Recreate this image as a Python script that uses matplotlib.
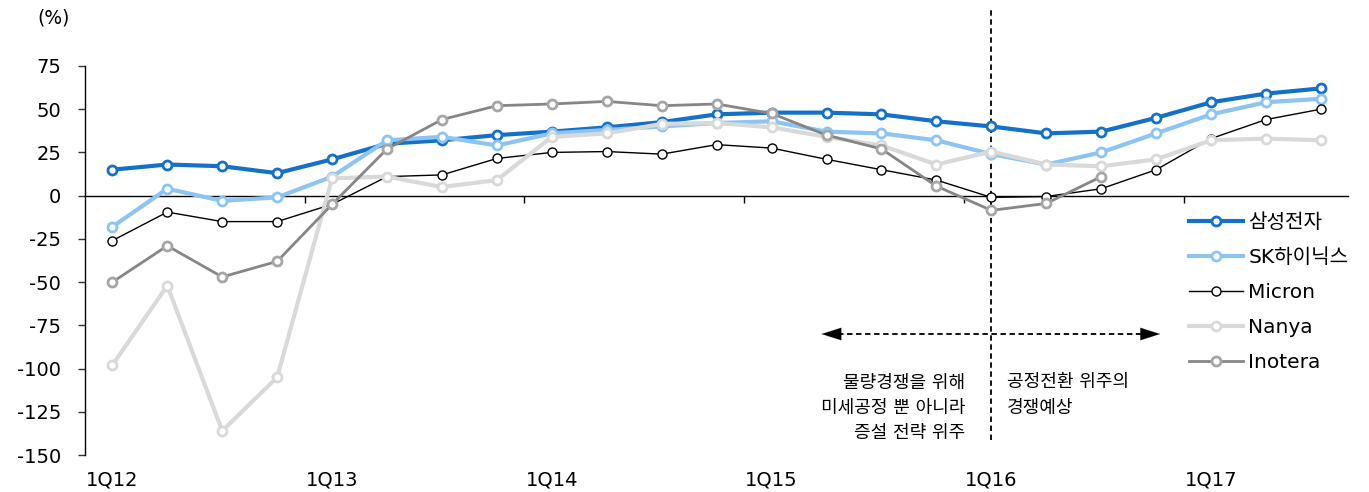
import matplotlib
matplotlib.use('Agg')
import matplotlib.pyplot as plt
import numpy as np

plt.rcParams['font.family'] = ['DejaVu Sans', 'Noto Sans CJK KR']
plt.rcParams['axes.unicode_minus'] = False

# ==================== 데이터 ====================
quarters = ['1Q12', '2Q12', '3Q12', '4Q12', '1Q13', '2Q13', '3Q13', '4Q13',
            '1Q14', '2Q14', '3Q14', '4Q14', '1Q15', '2Q15', '3Q15', '4Q15',
            '1Q16', '2Q16', '3Q16', '4Q16', '1Q17', '2Q17', '3Q17']

samsung = [15, 18, 17, 13, 21, 30, 32, 35, 37, 39.5, 42.5, 47, 48, 48, 47, 43,
           40, 36, 37, 45, 54, 59, 62]
sk_hynix = [-18, 4, -3, -1, 11, 32, 34, 29, 36, 38, 40, 42, 43, 37, 36, 32,
            24, 18, 25, 36, 47, 54, 56]
micron = [-26, -9.5, -15, -15, -5, 11, 12, 21.5, 25, 25.5, 24, 29.5, 27.5, 21, 15, 9,
          -1, -0.5, 4, 15, 33, 44, 50]
nanya = [-98, -52, -136, -105, 10, 11, 5, 9, 34, 36, 41.5, 42, 39.5, 34, 29, 18,
         25.5, 18, 17, 21, 32, 33, 32]
inotera = [-50, -29, -47, -38, -5, 27, 44, 52, 53, 54.5, 52, 53, 47.5, 35, 27, 5.5,
           -8.5, -4.5, 11]

series = [
    ('삼성전자', samsung, '#1570C9', '#1570C9', 3.0, 2.0),
    ('SK하이닉스', sk_hynix, '#8DC4F2', '#8DC4F2', 3.0, 2.0),
    ('Micron', micron, 'black', 'black', 1.0, 1.0),
    ('Nanya', nanya, '#D9D9D9', '#D9D9D9', 3.0, 2.0),
    ('Inotera', inotera, '#868686', '#A6A6A6', 2.0, 2.0),
]

# ==================== 그래프 ====================
fig = plt.figure(figsize=(13.69, 4.92), dpi=100)
ax = fig.add_axes([0.062, 0.075, 0.923, 0.791])

x = np.arange(len(quarters))
for name, vals, lc, mec, lw, mew in series:
    ax.plot(x[:len(vals)], vals, color=lc, lw=lw, marker='o', ms=6.5,
            mfc='white', mec=mec, mew=mew, label=name, zorder=3)

ax.set_xlim(-0.5, len(quarters) - 0.5)
ax.set_ylim(-150, 75)
ax.set_yticks(range(-150, 76, 25))
ax.tick_params(axis='y', labelsize=14, length=5, width=1, color='#333333', pad=12)

ax.spines['top'].set_visible(False)
ax.spines['right'].set_visible(False)
ax.spines['bottom'].set_position(('data', 0))
ax.spines['bottom'].set_linewidth(1)
ax.spines['left'].set_linewidth(1)

ax.set_xticks(np.arange(3.5, len(quarters) - 1, 4))
ax.set_xticklabels([])
ax.tick_params(axis='x', length=5, width=1, direction='out')

for i in range(0, len(quarters), 4):
    ax.text(i, -0.04, quarters[i], transform=ax.get_xaxis_transform(),
            ha='center', va='top', fontsize=14)

fig.text(0.027, 0.963, '(%)', ha='left', va='center', fontsize=13.5)

# 1Q16 기준 점선
ax.axvline(16, ymin=0.04, ymax=1.145, color='black', ls=(0, (3, 2)), lw=1.3,
           clip_on=False, zorder=2)

# 양방향 화살표
ax.plot([13.2, 18.8], [-80, -80], color='black', ls=(0, (3, 2)), lw=1.3)
for x0, x1 in [(13.5, 12.91), (18.5, 19.07)]:
    ax.annotate('', xy=(x1, -80), xytext=(x0, -80),
                arrowprops=dict(arrowstyle='-|>,head_length=1.4,head_width=0.45',
                                color='black', lw=0.1, shrinkA=0, shrinkB=0))

ax.text(15.53, -122.7, '물량경쟁을 위해\n미세공정 뿐 아니라\n증설 전략 위주', ha='right', va='center',
        fontsize=13, linespacing=1.5)
ax.text(16.29, -115.2, '공정전환 위주의\n경쟁예상', ha='left', va='center',
        fontsize=13, linespacing=1.5)

leg = fig.legend(loc='upper left', bbox_to_anchor=(1189 / 1369, 1 - 213 / 492),
                 frameon=False, fontsize=14.5, handlelength=2.7, handletextpad=0.25,
                 labelspacing=0.8, borderpad=0, borderaxespad=0)

fig.savefig('out.png', dpi=100)
